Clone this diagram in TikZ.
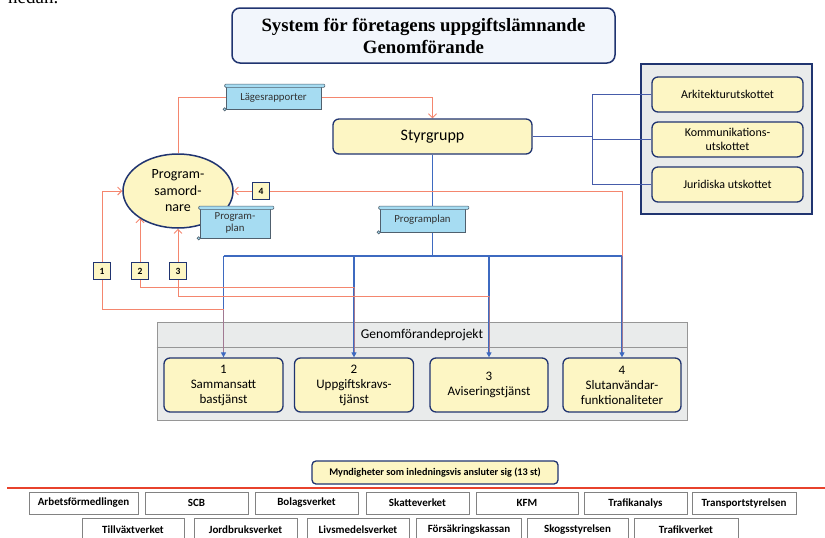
\documentclass[tikz,border=0pt]{standalone}
\usepackage{fontspec}
\setmainfont{Carlito}
\newfontfamily\titleserif{Liberation Serif}
\usetikzlibrary{arrows.meta,shapes.geometric}
\pgfdeclarelayer{back}
\pgfdeclarelayer{links}
\pgfsetlayers{back,links,main}
\definecolor{navy}{RGB}{32,52,112}
\definecolor{paleyellow}{RGB}{253,246,196}
\definecolor{paleblue}{RGB}{242,246,252}
\definecolor{flowblue}{RGB}{62,106,192}
\definecolor{linkblue}{RGB}{70,92,170}
\definecolor{salmon}{RGB}{244,134,110}
\definecolor{scrollfill}{RGB}{166,220,242}
\definecolor{scrolledge}{RGB}{80,96,110}
\definecolor{panelgray}{RGB}{233,235,235}
\definecolor{framegray}{RGB}{150,150,150}
\definecolor{agencyedge}{RGB}{130,130,130}
\definecolor{rulered}{RGB}{232,66,44}

% rolled top edge and curl of a scroll-shaped document node
\newcommand\scrollroll[1]{%
  \draw[scrolledge, line width=0.6pt, fill=scrollfill, rounded corners=1pt]
    ([shift={(-1pt,1.6pt)}]#1.north west) rectangle ([shift={(3.5pt,-1.6pt)}]#1.north east);
  \draw[scrolledge, line width=0.6pt, fill=scrollfill]
    ([xshift=-1pt]#1.south west) circle (1.6pt);
}

\begin{document}
\begin{tikzpicture}[x=1pt,y=-1pt,
  yellowbox/.style={draw=navy, line width=1.3pt, fill=paleyellow, rounded corners=6pt,
    inner sep=0pt, align=center},
  numbox/.style={draw=navy, line width=1.4pt, fill=paleyellow, minimum size=17pt,
    inner sep=0pt, font=\bfseries\fontsize{9.5}{10}\selectfont},
  scrollbody/.style={draw=scrolledge, line width=0.6pt, fill=scrollfill, inner sep=0pt,
    align=center, font=\fontsize{10.8}{12.5}\selectfont, text=black!80},
  agency/.style={draw=agencyedge, line width=0.7pt, fill=white, inner sep=0pt,
    font=\bfseries\fontsize{11}{12}\selectfont},
  committeebox/.style={yellowbox, minimum width=151pt, minimum height=35pt,
    font=\fontsize{12}{14.5}\selectfont},
  projectbox/.style={yellowbox, minimum height=54pt, font=\fontsize{13}{15}\selectfont},
  flow/.style={flowblue, line width=1.3pt},
  flowarrow/.style={flow, -{Triangle[length=5pt,width=5pt]}},
  report/.style={salmon, line width=0.9pt},
  reportarrow/.style={report, -{Straight Barb[length=4pt,width=8pt]}},
  committee/.style={linkblue, line width=1pt}]
\useasboundingbox (0,0) rectangle (825,538);

% fragment of the running text above the figure
\node[anchor=base west, inner sep=0pt, font=\titleserif\fontsize{19}{22}\selectfont] (prevtext) at (8,4) {nedan.};

% title
\node[draw=navy, line width=1.5pt, fill=paleblue, rounded corners=8pt, minimum width=383pt,
  minimum height=55pt, align=center, inner sep=0pt,
  font=\titleserif\bfseries\fontsize{18.8}{22}\selectfont] (title) at (423.5,35.5)
  {System för företagens uppgiftslämnande\\Genomförande};

% committees and project frame
\begin{pgfonlayer}{back}
\node[draw=navy, line width=1.5pt, fill=panelgray, minimum width=171pt, minimum height=150pt] (panel) at (726.5,139) {};
\node[draw=framegray, line width=0.9pt, fill=panelgray, minimum width=530pt, minimum height=98pt] (gp) at (422,371) {};
\draw[framegray, line width=0.9pt] (gp.west |- 0,347) -- (gp.east |- 0,347);
\end{pgfonlayer}
\node[committeebox] (ark) at (727.5,94.5) {Arkitekturutskottet};
\node[committeebox] (kom) at (727.5,139.5) {Kommunikations-\\utskottet};
\node[committeebox] (jur) at (727.5,184.5) {Juridiska utskottet};

% steering group and programme coordination
\node[yellowbox, minimum width=199pt, minimum height=35pt, font=\fontsize{16}{18}\selectfont] (sty) at (432.5,136.5) {Styrgrupp};
\node[ellipse, draw=navy, line width=1.5pt, fill=paleyellow, minimum width=110pt, minimum height=74pt,
  inner sep=0pt, align=center, font=\fontsize{14}{16.5}\selectfont] (pro) at (178,191) {Program-\\samord-\\nare};

% documents
\node[scrollbody, minimum width=95pt, minimum height=23pt] (lr) at (273.5,97.5) {Lägesrapporter};
\scrollroll{lr}
\node[scrollbody, minimum width=85pt, minimum height=24pt] (pplan) at (422.5,220) {Programplan};
\scrollroll{pplan}
\node[scrollbody, minimum width=70pt, minimum height=30pt] (pplanb) at (235,223) {Program-\\plan};
\scrollroll{pplanb}

% reporting markers
\node[numbox] (b1) at (102,271) {1};
\node[numbox] (b2) at (140,271) {2};
\node[numbox] (b3) at (178,271) {3};
\node[numbox] (b4) at (261,191) {4};

% implementation projects
\node[font=\fontsize{13.5}{16}\selectfont] (gptitle) at (422,335) {Genomförandeprojekt};
\node[projectbox, minimum width=119pt] (p1) at (223.5,385) {1\\Sammansatt\\bastjänst};
\node[projectbox, minimum width=119pt] (p2) at (354,385) {2\\Uppgiftskravs-\\tjänst};
\node[projectbox, minimum width=118pt] (p3) at (489,385) {3\\Aviseringstjänst};
\node[projectbox, minimum width=118pt] (p4) at (622,385) {4\\Slutanvändar-\\funktionaliteter};

% connectors
\coordinate (hub) at (432.5,256);
\coordinate (rj) at (592,0);
\coordinate (k1) at (102,309);
\coordinate (k2) at (140,287);
\coordinate (k3) at (178,296);
\begin{pgfonlayer}{links}
  % steering group to committees
  \draw[committee] (sty.east) -- (sty.east -| rj);
  \draw[committee] (ark.west) -- (ark.west -| rj) -- (jur.west -| rj) -- (jur.west);
  \draw[committee] (kom.west -| rj) -- (kom.west);
  % status reports up to the steering group
  \draw[report] (pro.north) |- (lr.west);
  \draw[reportarrow] (lr.east) -| (sty.north);
  % programme plan down to the projects
  \draw[flow] (sty.south) -- (hub);
  \draw[flow] (p1.north |- hub) -- (p4.north |- hub);
  \draw[flowarrow] (p1.north |- hub) -- (p1.north);
  \draw[flowarrow] (p2.north |- hub) -- (p2.north);
  \draw[flowarrow] (p3.north |- hub) -- (p3.north);
  \draw[flowarrow] (p4.north |- hub) -- (p4.north);
  % project reports back to the coordinator
  \draw[report, opacity=.55] ([yshift=5pt]p1.north) -- (p1.north |- k1);
  \draw[report, opacity=.55] ([yshift=5pt]p2.north) -- (p2.north |- k2);
  \draw[report, opacity=.55] ([yshift=5pt]p3.north) -- (p3.north |- k3);
  \draw[report, opacity=.55] ([yshift=5pt]p4.north) -- (p4.north |- hub);
  \draw[reportarrow] (p1.north |- k1) -- (k1) -- (k1 |- pro.west) -- (pro.west);
  \draw[reportarrow] (p2.north |- k2) -- (k2) -- (k2 |- pro.215);
  \draw[reportarrow] (p3.north |- k3) -- (k3) -- (pro.south);
  \draw[report] (p4.north |- hub) |- (b4.east);
  \draw[reportarrow] (b4.west) -- (pro.east);
\end{pgfonlayer}

% participating agencies
\node[yellowbox, rounded corners=4pt, minimum width=246pt, minimum height=23pt,
  font=\bfseries\fontsize{10.2}{11}\selectfont] (myn) at (435,472.5) {Myndigheter som inledningsvis ansluter sig (13 st)};
\coordinate (ruleL) at (7,488);
\coordinate (ruleR) at (825,488);
\draw[rulered, line width=2.4pt] (ruleL) -- (ruleR);

\node[agency, minimum width=109pt, minimum height=22pt] (a1) at (83.5,503) {Arbetsförmedlingen};
\node[agency, minimum width=103pt, minimum height=22pt] (a2) at (196.5,503) {SCB};
\node[agency, minimum width=103pt, minimum height=22pt] (a3) at (306.5,503) {Bolagsverket};
\node[agency, minimum width=103pt, minimum height=22pt] (a4) at (417.5,503) {Skatteverket};
\node[agency, minimum width=102pt, minimum height=22pt] (a5) at (527,503) {KFM};
\node[agency, minimum width=103pt, minimum height=22pt] (a6) at (635.5,503) {Trafikanalys};
\node[agency, minimum width=104pt, minimum height=22pt] (a7) at (744,503) {Transportstyrelsen};

\node[agency, minimum width=102pt, minimum height=23pt] (a8) at (133,529.5) {Tillväxtverket};
\node[agency, minimum width=103pt, minimum height=23pt] (a9) at (245.5,529.5) {Jordbruksverket};
\node[agency, minimum width=102pt, minimum height=23pt] (a10) at (358,529.5) {Livsmedelsverket};
\node[agency, minimum width=105pt, minimum height=23pt] (a11) at (469,529.5) {Försäkringskassan};
\node[agency, minimum width=101pt, minimum height=23pt] (a12) at (577.5,529.5) {Skogsstyrelsen};
\node[agency, minimum width=104pt, minimum height=23pt] (a13) at (686,529.5) {Trafikverket};
\end{tikzpicture}
\end{document}
